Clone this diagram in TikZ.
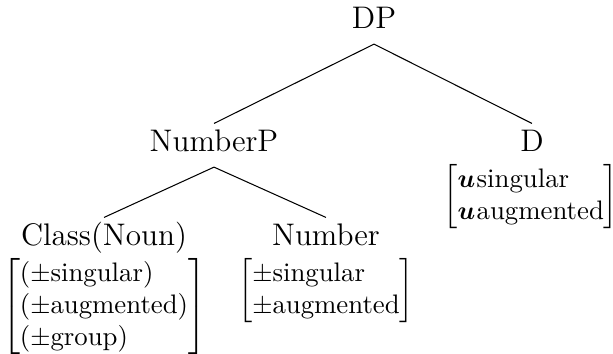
\documentclass[tikz,border=0pt]{standalone}
\usepackage{amsmath,amssymb,bm}
\newcommand{\featmat}[1]{$\left[\begin{array}{@{}l@{}}#1\end{array}\right]$}
\begin{document}
\begin{tikzpicture}[x=0.3846pt,y=-0.3846pt,
  lab/.style={font=\large, inner xsep=0pt, inner ysep=2pt, text height=8.4pt, text depth=4pt, anchor=base},
  feat/.style={inner sep=0pt, anchor=north, font=\fontsize{10.3}{12.4}\selectfont},
  branch/.style={line width=0.4pt}]
\useasboundingbox (0,0) rectangle (613,353);
\node[lab] (dp) at (374,28) {DP};
\node[lab] (np) at (214,151) {NumberP};
\node[lab] (d) at (532,151) {D};
\node[lab] (cl) at (104,245) {Class(Noun)};
\node[lab] (num) at (326,245) {Number};
\node[feat] (clf) at ([yshift=-5pt]cl.base) {\featmat{\text{($\pm$singular)}\\ \text{($\pm$augmented)}\\ \text{($\pm$group)}}};
\node[feat] (numf) at ([yshift=-5pt]num.base) {\featmat{\text{$\pm$singular}\\ \text{$\pm$augmented}}};
\node[feat] (df) at ([xshift=-0.5pt,yshift=-5pt]d.base) {\featmat{\bm{u}\mkern1mu\text{singular}\\ \bm{u}\mkern1mu\text{augmented}}};
\draw[branch] (dp.south) -- (np.north);
\draw[branch] (dp.south) -- (d.north);
\draw[branch] (np.south) -- (cl.north);
\draw[branch] (np.south) -- (num.north);
\end{tikzpicture}
\end{document}
